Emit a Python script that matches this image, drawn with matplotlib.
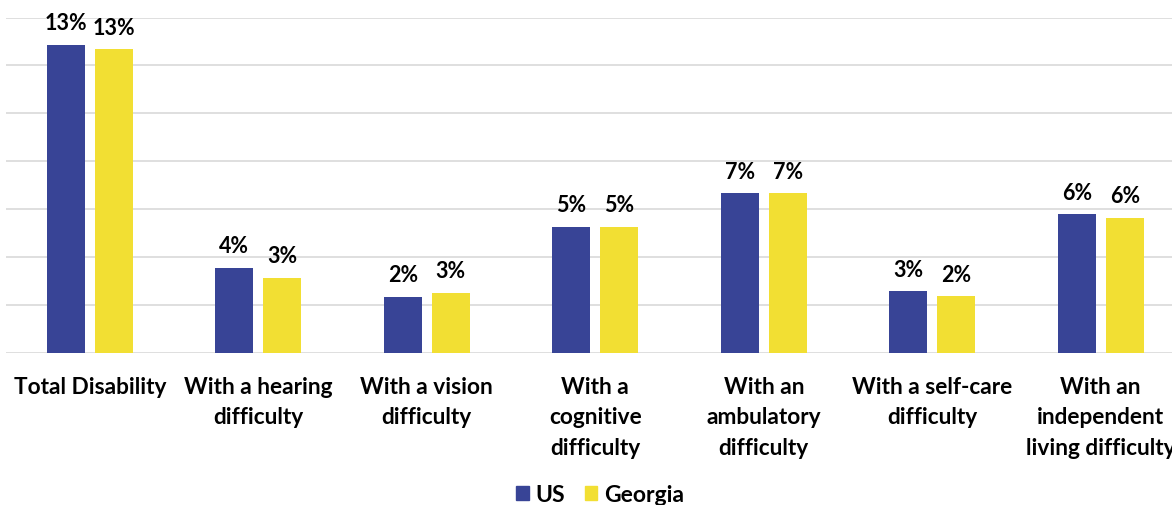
import matplotlib
matplotlib.use("Agg")
import matplotlib.pyplot as plt
import numpy as np
from matplotlib.patches import Patch

categories = [
    "Total Disability",
    "With a hearing\ndifficulty",
    "With a vision\ndifficulty",
    "With a\ncognitive\ndifficulty",
    "With an\nambulatory\ndifficulty",
    "With a self-care\ndifficulty",
    "With an\nindependent\nliving difficulty",
]
us_values = [12.86, 3.57, 2.36, 5.27, 6.67, 2.58, 5.79]
georgia_values = [12.68, 3.15, 2.52, 5.27, 6.67, 2.37, 5.65]
series_names = ["US", "Georgia"]

US_COLOR = "#384496"
GA_COLOR = "#F2DF33"
FONT = ["Lato", "DejaVu Sans"]

fig = plt.figure(figsize=(11.72, 5.05), dpi=100)
W, H = 1172.0, 505.0
left_px, right_px = 5.5, 1185.0
bottom_px, top_px = 353.3, 17.5
ax = fig.add_axes([left_px / W, (H - bottom_px) / H,
                   (right_px - left_px) / W, (bottom_px - top_px) / H])

x = np.arange(len(categories))
bw = 0.2255
off = 0.1424
b1 = ax.bar(x - off, us_values, bw, color=US_COLOR, zorder=3)
b2 = ax.bar(x + off, georgia_values, bw, color=GA_COLOR, zorder=3)

ax.set_xlim(-0.5, len(categories) - 0.5)
ax.set_ylim(0, 14)
ax.set_yticks(np.arange(0, 15, 2))
ax.yaxis.grid(True, color="#D9D9D9", linewidth=1.2, zorder=0)
ax.set_axisbelow(True)
ax.tick_params(axis="y", left=False, labelleft=False)
ax.tick_params(axis="x", bottom=False, pad=13.5)
for s in ax.spines.values():
    s.set_visible(False)

ax.set_xticks(x)
ax.set_xticklabels(categories, fontsize=16.3, fontweight="bold", family=FONT,
                   linespacing=1.55, va="top")

for bars, vals in ((b1, us_values), (b2, georgia_values)):
    for rect, v in zip(bars, vals):
        ax.annotate(f"{v:.0f}%", (rect.get_x() + rect.get_width() / 2, v),
                    xytext=(0, 10.5), textcoords="offset points",
                    ha="center", va="baseline", fontsize=15.5, fontweight="bold",
                    family=FONT, annotation_clip=False, clip_on=False)

handles = [Patch(color=US_COLOR, label=series_names[0]),
           Patch(color=GA_COLOR, label=series_names[1])]
fig.legend(handles=handles, loc="center", bbox_to_anchor=(600 / W, (H - 495) / H),
           ncol=2, frameon=False, handlelength=0.55, handleheight=0.55,
           handletextpad=0.3, columnspacing=0.85,
           prop={"family": FONT, "weight": "bold", "size": 16.5})

fig.savefig("out.png", dpi=100)
